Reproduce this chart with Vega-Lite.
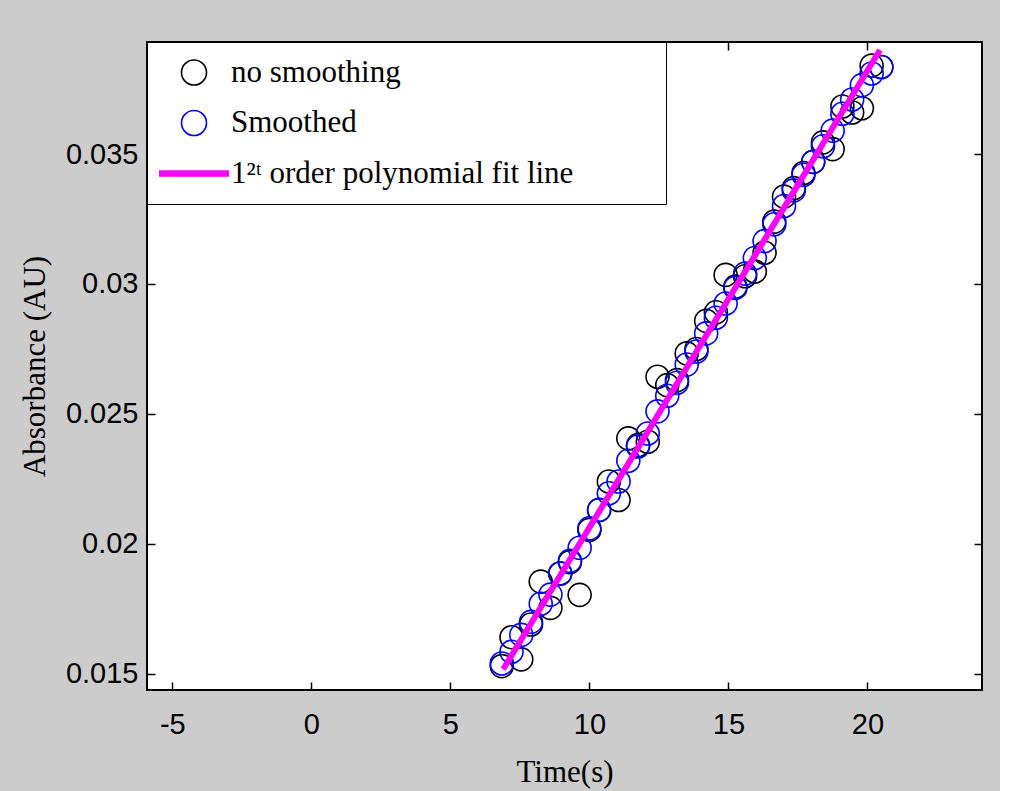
{
  "$schema": "https://vega.github.io/schema/vega-lite/v6.json",
  "width": 835,
  "height": 648,
  "autosize": {"type": "none"},
  "padding": {"left": 147, "top": 42, "right": 18, "bottom": 101},
  "background": "#cccccc",
  "config": {
    "view": {"fill": "white", "stroke": "black", "strokeWidth": 2},
    "axis": {"grid": false, "domain": false, "tickColor": "black", "tickWidth": 1.5, "tickSize": -8, "labelColor": "black", "titleColor": "black", "titleFontWeight": "normal"}
  },
  "datasets": {
    "pts": [
      {"t": 6.85, "v": 0.01530, "series": "no smoothing"},
      {"t": 7.20, "v": 0.01641, "series": "no smoothing"},
      {"t": 7.55, "v": 0.01556, "series": "no smoothing"},
      {"t": 7.90, "v": 0.01690, "series": "no smoothing"},
      {"t": 8.25, "v": 0.01855, "series": "no smoothing"},
      {"t": 8.60, "v": 0.01754, "series": "no smoothing"},
      {"t": 8.95, "v": 0.01887, "series": "no smoothing"},
      {"t": 9.30, "v": 0.01930, "series": "no smoothing"},
      {"t": 9.65, "v": 0.01804, "series": "no smoothing"},
      {"t": 10.00, "v": 0.02054, "series": "no smoothing"},
      {"t": 10.35, "v": 0.02131, "series": "no smoothing"},
      {"t": 10.70, "v": 0.02240, "series": "no smoothing"},
      {"t": 11.05, "v": 0.02169, "series": "no smoothing"},
      {"t": 11.40, "v": 0.02406, "series": "no smoothing"},
      {"t": 11.75, "v": 0.02380, "series": "no smoothing"},
      {"t": 12.10, "v": 0.02393, "series": "no smoothing"},
      {"t": 12.45, "v": 0.02643, "series": "no smoothing"},
      {"t": 12.80, "v": 0.02611, "series": "no smoothing"},
      {"t": 13.15, "v": 0.02630, "series": "no smoothing"},
      {"t": 13.50, "v": 0.02733, "series": "no smoothing"},
      {"t": 13.85, "v": 0.02750, "series": "no smoothing"},
      {"t": 14.20, "v": 0.02858, "series": "no smoothing"},
      {"t": 14.55, "v": 0.02891, "series": "no smoothing"},
      {"t": 14.90, "v": 0.03035, "series": "no smoothing"},
      {"t": 15.25, "v": 0.02990, "series": "no smoothing"},
      {"t": 15.60, "v": 0.03030, "series": "no smoothing"},
      {"t": 15.95, "v": 0.03048, "series": "no smoothing"},
      {"t": 16.30, "v": 0.03120, "series": "no smoothing"},
      {"t": 16.65, "v": 0.03240, "series": "no smoothing"},
      {"t": 17.00, "v": 0.03336, "series": "no smoothing"},
      {"t": 17.35, "v": 0.03369, "series": "no smoothing"},
      {"t": 17.70, "v": 0.03427, "series": "no smoothing"},
      {"t": 18.05, "v": 0.03470, "series": "no smoothing"},
      {"t": 18.40, "v": 0.03545, "series": "no smoothing"},
      {"t": 18.75, "v": 0.03519, "series": "no smoothing"},
      {"t": 19.10, "v": 0.03683, "series": "no smoothing"},
      {"t": 19.45, "v": 0.03660, "series": "no smoothing"},
      {"t": 19.80, "v": 0.03676, "series": "no smoothing"},
      {"t": 20.15, "v": 0.03840, "series": "no smoothing"},
      {"t": 20.50, "v": 0.03835, "series": "no smoothing"},
      {"t": 6.85, "v": 0.01540, "series": "Smoothed"},
      {"t": 7.20, "v": 0.01585, "series": "Smoothed"},
      {"t": 7.55, "v": 0.01650, "series": "Smoothed"},
      {"t": 7.90, "v": 0.01700, "series": "Smoothed"},
      {"t": 8.25, "v": 0.01770, "series": "Smoothed"},
      {"t": 8.60, "v": 0.01805, "series": "Smoothed"},
      {"t": 8.95, "v": 0.01885, "series": "Smoothed"},
      {"t": 9.30, "v": 0.01935, "series": "Smoothed"},
      {"t": 9.65, "v": 0.01985, "series": "Smoothed"},
      {"t": 10.00, "v": 0.02060, "series": "Smoothed"},
      {"t": 10.35, "v": 0.02130, "series": "Smoothed"},
      {"t": 10.70, "v": 0.02195, "series": "Smoothed"},
      {"t": 11.05, "v": 0.02240, "series": "Smoothed"},
      {"t": 11.40, "v": 0.02320, "series": "Smoothed"},
      {"t": 11.75, "v": 0.02375, "series": "Smoothed"},
      {"t": 12.10, "v": 0.02425, "series": "Smoothed"},
      {"t": 12.45, "v": 0.02510, "series": "Smoothed"},
      {"t": 12.80, "v": 0.02570, "series": "Smoothed"},
      {"t": 13.15, "v": 0.02620, "series": "Smoothed"},
      {"t": 13.50, "v": 0.02690, "series": "Smoothed"},
      {"t": 13.85, "v": 0.02740, "series": "Smoothed"},
      {"t": 14.20, "v": 0.02810, "series": "Smoothed"},
      {"t": 14.55, "v": 0.02870, "series": "Smoothed"},
      {"t": 14.90, "v": 0.02925, "series": "Smoothed"},
      {"t": 15.25, "v": 0.02985, "series": "Smoothed"},
      {"t": 15.60, "v": 0.03040, "series": "Smoothed"},
      {"t": 15.95, "v": 0.03100, "series": "Smoothed"},
      {"t": 16.30, "v": 0.03165, "series": "Smoothed"},
      {"t": 16.65, "v": 0.03230, "series": "Smoothed"},
      {"t": 17.00, "v": 0.03300, "series": "Smoothed"},
      {"t": 17.35, "v": 0.03360, "series": "Smoothed"},
      {"t": 17.70, "v": 0.03420, "series": "Smoothed"},
      {"t": 18.05, "v": 0.03470, "series": "Smoothed"},
      {"t": 18.40, "v": 0.03530, "series": "Smoothed"},
      {"t": 18.75, "v": 0.03590, "series": "Smoothed"},
      {"t": 19.10, "v": 0.03655, "series": "Smoothed"},
      {"t": 19.45, "v": 0.03710, "series": "Smoothed"},
      {"t": 19.80, "v": 0.03765, "series": "Smoothed"},
      {"t": 20.15, "v": 0.03810, "series": "Smoothed"},
      {"t": 20.50, "v": 0.03835, "series": "Smoothed"}
    ],
    "fit": [
      {"t": 6.90, "v": 0.01518, "series": "1²ᵗ order polynomial fit line"},
      {"t": 20.45, "v": 0.03900, "series": "1²ᵗ order polynomial fit line"}
    ]
  },
  "layer": [
    {
      "data": {"name": "pts"},
      "mark": {"type": "point", "filled": false, "size": 529, "strokeWidth": 1.6, "opacity": 1},
      "encoding": {
        "x": {
          "field": "t", "type": "quantitative",
          "scale": {"domain": [-5.91, 24.12], "nice": false, "zero": false},
          "axis": {"orient": "bottom", "values": [-5, 0, 5, 10, 15, 20], "labelExpr": "datum.value < 0 ? '-' + abs(datum.value) : '' + datum.value", "title": "Time(s)", "labelFont": "Liberation Sans", "labelFontSize": 29, "labelPadding": 28, "labelFlush": false, "titleFont": "Liberation Serif", "titleFontSize": 31, "titlePadding": 18}
        },
        "y": {
          "field": "v", "type": "quantitative",
          "scale": {"domain": [0.01438, 0.03931], "nice": false, "zero": false},
          "axis": {"orient": "left", "values": [0.015, 0.02, 0.025, 0.03, 0.035], "format": ".3~f", "title": "Absorbance (AU)", "labelFont": "Liberation Sans", "labelFontSize": 29, "labelPadding": 17, "labelFlush": false, "titleFont": "Liberation Serif", "titleFontSize": 31, "titlePadding": 14}
        },
        "color": {
          "field": "series", "type": "nominal",
          "scale": {"domain": ["no smoothing", "Smoothed", "1²ᵗ order polynomial fit line"], "range": ["#000000", "#0000ff", "#ff00ff"]},
          "legend": {
            "title": null, "orient": "top-left", "offset": 0, "padding": 15,
            "fillColor": "white", "strokeColor": "black",
            "symbolSize": 625, "symbolStrokeWidth": 1.6, "symbolOffset": 16.5, "labelOffset": 21.5, "rowPadding": 17.5,
            "labelFont": "Liberation Serif", "labelFontSize": 31, "labelColor": "black", "labelLimit": 1000,
            "labelExpr": "indexof(datum.label,'order')>=0 ? datum.label + '\u00a0\u00a0\u00a0\u00a0\u00a0\u00a0\u00a0\u00a0\u00a0\u00a0\u200b' : datum.label",
            "encode": {"legend": {"strokeWidth": {"value": 2}}}
          }
        },
        "shape": {
          "field": "series", "type": "nominal",
          "scale": {"domain": ["no smoothing", "Smoothed", "1²ᵗ order polynomial fit line"], "range": ["circle", "circle", "M-2.8,-0.2H2.8M-2.8,-0.1H2.8M-2.8,0H2.8M-2.8,0.1H2.8M-2.8,0.2H2.8"]},
          "legend": {"title": null}
        }
      }
    },
    {
      "data": {"name": "fit"},
      "mark": {"type": "line", "strokeWidth": 6, "strokeCap": "butt"},
      "encoding": {
        "x": {"field": "t", "type": "quantitative", "axis": {"orient": "top", "values": [-5, 0, 5, 10, 15, 20], "labels": false, "title": null}},
        "y": {"field": "v", "type": "quantitative", "axis": {"orient": "right", "values": [0.015, 0.02, 0.025, 0.03, 0.035], "labels": false, "title": null}},
        "color": {"field": "series", "type": "nominal"}
      }
    }
  ],
  "resolve": {"axis": {"x": "independent", "y": "independent"}}
}
